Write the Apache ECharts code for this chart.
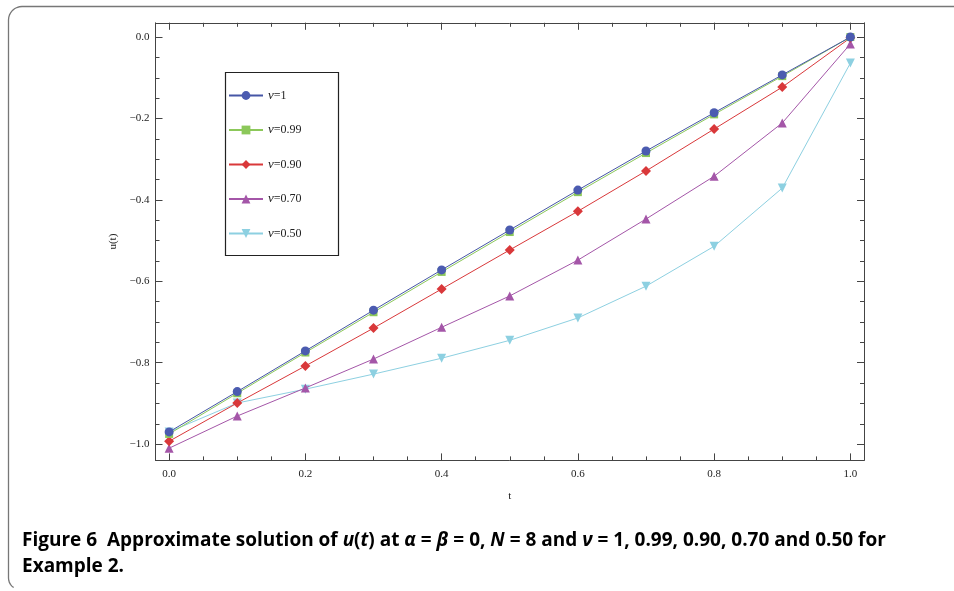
<!DOCTYPE html>
<html>
<head>
<meta charset="utf-8">
<script src="https://cdn.jsdelivr.net/npm/echarts@6/dist/echarts.min.js"></script>
<style>html,body{margin:0;padding:0;background:#fff}#c{width:954px;height:591px}</style>
</head>
<body>
<div id="c"></div>
<script>
var tValues = [0, 0.1, 0.2, 0.3, 0.4, 0.5, 0.6, 0.7, 0.8, 0.9, 1.0];
var nu100 = [-0.970, -0.871, -0.771, -0.671, -0.572, -0.474, -0.376, -0.280, -0.186, -0.093, 0.000];
var nu099 = [-0.975, -0.875, -0.775, -0.676, -0.577, -0.479, -0.381, -0.285, -0.190, -0.096, 0.000];
var nu090 = [-0.993, -0.899, -0.808, -0.715, -0.619, -0.523, -0.428, -0.329, -0.226, -0.123, -0.002];
var nu070 = [-1.010, -0.931, -0.862, -0.791, -0.713, -0.636, -0.548, -0.447, -0.342, -0.211, -0.017];
var nu050 = [-0.970, -0.899, -0.865, -0.828, -0.789, -0.745, -0.690, -0.612, -0.514, -0.371, -0.064];
var seriesNames = ['ν=1', 'ν=0.99', 'ν=0.90', 'ν=0.70', 'ν=0.50'];
var xMajorTicks = [0, 0.2, 0.4, 0.6, 0.8, 1.0];
var xMinorTicks = [0, 0.05, 0.1, 0.15, 0.2, 0.25, 0.3, 0.35, 0.4, 0.45, 0.5, 0.55, 0.6, 0.65, 0.7, 0.75, 0.8, 0.85, 0.9, 0.95, 1.0];
var yMajorTicks = [0, -0.2, -0.4, -0.6, -0.8, -1.0];
var yMinorTicks = [0, -0.05, -0.1, -0.15, -0.2, -0.25, -0.3, -0.35, -0.4, -0.45, -0.5, -0.55, -0.6, -0.65, -0.7, -0.75, -0.8, -0.85, -0.9, -0.95, -1.0];

function pairs(ys){ return tValues.map(function(t,i){ return [t, ys[i]]; }); }
var chart = echarts.init(document.getElementById('c'), null, {renderer:'canvas'});
var AX = '#444';
var serif = 'Liberation Serif';
function fmt(v){ return (Math.abs(v) < 1e-9 ? 0 : v).toFixed(1).replace('-', '\u2212'); }
function xAx(pos, major, labels){
  return {type:'value', position:pos, min:-0.02, max:1.02, gridIndex:0,
    axisLine:{show:major, onZero:false, lineStyle:{color:AX, width:1}},
    axisTick:{show:true, inside:true, length: major?7:4, customValues: major?xMajorTicks:xMinorTicks, lineStyle:{color:AX, width:1}},
    axisLabel:{show:labels, customValues:xMajorTicks, formatter:fmt, color:'#222', fontFamily:serif, fontSize:11, margin:8},
    splitLine:{show:false},
    name: (labels ? 't' : ''), nameLocation:'middle', nameGap:30, nameTextStyle:{color:'#222', fontFamily:serif, fontSize:11}};
}
function yAx(pos, major, labels){
  return {type:'value', position:pos, min:-1.04, max:0.035, gridIndex:0,
    axisLine:{show:major, onZero:false, lineStyle:{color:AX, width:1}},
    axisTick:{show:true, inside:true, length: major?7:4, customValues: major?yMajorTicks:yMinorTicks, lineStyle:{color:AX, width:1}},
    axisLabel:{show:labels, customValues:yMajorTicks, formatter:fmt, color:'#222', fontFamily:serif, fontSize:11, margin:6},
    splitLine:{show:false},
    name: (labels ? 'u(t)' : ''), nameLocation:'middle', nameGap:36, nameRotate:90, nameTextStyle:{color:'#222', fontFamily:serif, fontSize:11}};
}
var styles = [
  {c:'#4656a6', m:'#4b5bb0', sym:'circle', size:9, rot:0},
  {c:'#8cc85a', m:'#8cc85a', sym:'rect', size:8, rot:0},
  {c:'#d9383a', m:'#d9383a', sym:'diamond', size:10, rot:0},
  {c:'#a456a8', m:'#a456a8', sym:'triangle', size:9, rot:0},
  {c:'#8dd0e1', m:'#8dd0e1', sym:'triangle', size:9, rot:180}
];
var dataSets = [nu100, nu099, nu090, nu070, nu050];
var series = dataSets.map(function(d,i){
  var s = styles[i];
  return {name:seriesNames[i], type:'line', xAxisIndex:0, yAxisIndex:0, data:pairs(d),
    symbol:s.sym, symbolSize:s.size, symbolRotate:s.rot, showAllSymbol:true,
    lineStyle:{color:s.c, width:1}, itemStyle:{color:s.m}, z: 10 - i, animation:false};
});

// frame outline with rounded left corners
var frame = [[954, 6.5], [22, 6.5]];
(function(){
  var cx = 22, cy = 20, r = 13.5, k;
  for (k = 1; k <= 8; k++) { var a = -Math.PI/2 - k*(Math.PI/2)/8; frame.push([cx + r*Math.cos(a), cy + r*Math.sin(a)]); }
  frame.push([8.5, 578]);
  var cx2 = 20, cy2 = 578, r2 = 11.5;
  for (k = 1; k <= 5; k++) { var b = Math.PI - k*(Math.PI/2)/8; frame.push([cx2 + r2*Math.cos(b), cy2 + r2*Math.sin(b)]); }
})();

var capRich = {
  b:{fontFamily:'Open Sans', fontWeight:'bold', fontSize:19, color:'#111'},
  i:{fontFamily:'Open Sans', fontWeight:'bold', fontStyle:'italic', fontSize:19, color:'#111'}
};
chart.setOption({
  animation:false,
  backgroundColor:'#fff',
  grid:{left:155.5, top:22.8, width:708.5, height:437.6, containLabel:false},
  xAxis:[xAx('bottom', true, true), xAx('bottom', false, false), xAx('top', true, false), xAx('top', false, false)],
  yAxis:[yAx('left', true, true), yAx('left', false, false), yAx('right', true, false), yAx('right', false, false)],
  legend:{data:seriesNames, orient:'vertical', left:228, top:88, itemWidth:34, itemHeight:11, itemGap:19.5,
    padding:0,
    textStyle:{fontFamily:serif, fontSize:12, color:'#222', lineHeight:15,
      rich:{i:{fontFamily:serif, fontStyle:'italic', fontSize:13, color:'#222'}, n:{fontFamily:serif, fontSize:12, color:'#222'}}},
    formatter:function(n){ return '{i|ν}{n|' + n.slice(1) + '}'; }},
  series:series,
  graphic:[
    {type:'rect', shape:{x:225.5, y:72.5, width:113, height:183}, style:{fill:'none', stroke:'#222', lineWidth:1.2}, z:100},
    {type:'polyline', shape:{points:frame}, style:{fill:'none', stroke:'#777', lineWidth:1.3}, z:100},
    {type:'text', left:22, top:531, style:{rich:capRich, text:'{b|Figure 6  Approximate solution of }{i|u}{b|(}{i|t}{b|) at }{i|α}{b| = }{i|β}{b| = 0, }{i|N}{b| = 8 and }{i|ν}{b| = 1, 0.99, 0.90, 0.70 and 0.50 for}'}},
    {type:'text', left:22, top:557, style:{rich:capRich, text:'{b|Example 2.}'}}
  ]
});
</script>
</body>
</html>
